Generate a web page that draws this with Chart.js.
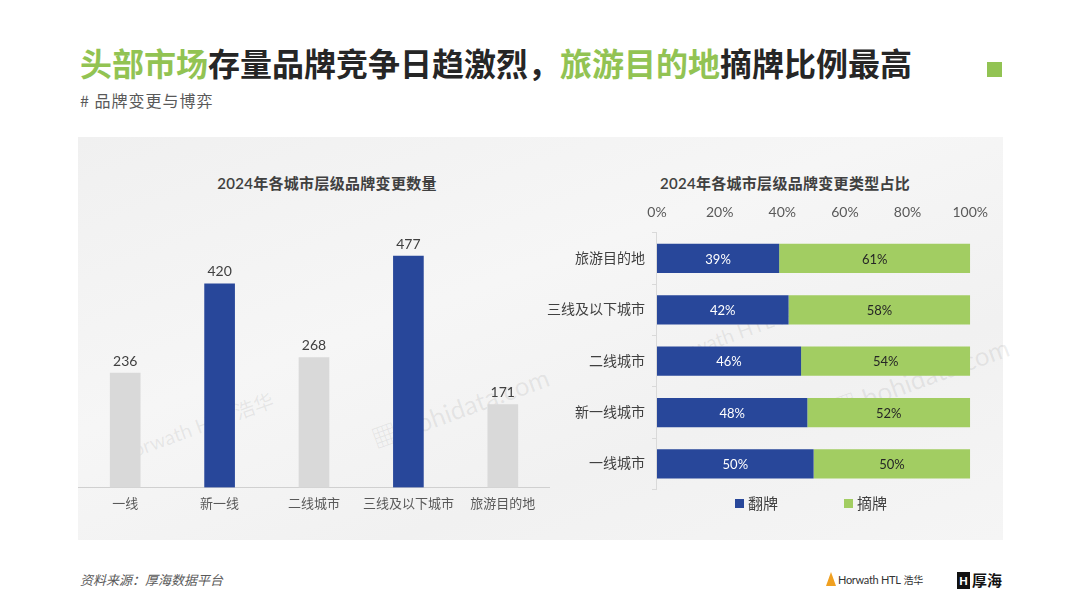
<!DOCTYPE html>
<html lang="zh-CN">
<head>
<meta charset="utf-8">
<title>品牌变更与博弈</title>
<script src="https://cdn.jsdelivr.net/npm/chart.js@4.4.1/dist/chart.umd.min.js"></script>
<style>
  body { margin: 0; width: 1080px; height: 606px; background: #fff; position: relative; overflow: hidden;
         font-family: Lato, "Noto Sans CJK SC", sans-serif; }
  .abs { position: absolute; }
  #title { left: 80px; top: 42px; font-size: 32px; font-weight: 700; color: #262626; line-height: 40px;
           font-family: "Noto Sans CJK SC", sans-serif; white-space: nowrap; }
  #title .g { color: #92c353; }
  #mark { left: 987px; top: 62px; width: 15px; height: 15px; background: #92c353; }
  #sub { left: 80px; top: 89px; font-size: 16px; letter-spacing: 1px; color: #595959; line-height: 22px;
         font-family: "Noto Sans CJK SC", sans-serif; }
  #panel { left: 78px; top: 137px; width: 925px; height: 403px;
           background: linear-gradient(160deg, #f0f0f0 0%, #f6f6f6 40%, #f1f1f1 70%, #f5f5f5 100%); }
  .ctitle { width: 400px; text-align: center; font-size: 15px; letter-spacing: 0.3px; font-weight: 600; color: #404040; line-height: 20px; }
  .wm { color: rgba(120,120,120,0.13); transform: rotate(-20deg); transform-origin: left center; white-space: nowrap; }
  #legend { left: 735px; top: 493px; font-size: 15px; color: #404040; line-height: 20px; display: flex; gap: 66px;
            font-family: "Noto Sans CJK SC", sans-serif; }
  #legend span.box { display: inline-block; width: 9px; height: 9px; margin-right: 4px; vertical-align: 1px; }
  #source { left: 80px; top: 570px; font-size: 13px; color: #595959; font-style: italic; line-height: 20px;
            font-family: "Noto Sans CJK SC", sans-serif; }
  #horwath { left: 826px; top: 572px; font-size: 11px; letter-spacing: -0.3px; color: #333; line-height: 16px; }
  #horwath i { display: inline-block; width: 0; height: 0; border-left: 5px solid transparent; border-right: 5px solid transparent;
               border-bottom: 14px solid #f0a020; vertical-align: -2px; margin-right: 2px; }
  #horwath small { font-size: 10px; margin-left: 3px; }
  #hohi { left: 957px; top: 570px; font-size: 15px; font-weight: 700; color: #111; line-height: 20px; font-family: "Noto Sans CJK SC", sans-serif; }
  #hohi b { display: inline-block; background: #111; color: #fff; font-size: 11px; width: 13px; height: 17px; text-align: center;
            line-height: 17px; margin-right: 2px; vertical-align: 1px; font-family: Lato, sans-serif; }
</style>
</head>
<body>
<div id="title" class="abs"><span class="g">头部市场</span>存量品牌竞争日趋激烈，<span class="g">旅游目的地</span>摘牌比例最高</div>
<div id="mark" class="abs"></div>
<div id="sub" class="abs"># 品牌变更与博弈</div>

<div id="panel" class="abs"></div>
<div class="abs wm" style="left:118px; top:440px; font-size:20px;">Horwath HTL 浩华</div>
<div class="abs wm" style="left:372px; top:420px; font-size:26px;">▦ hohidata.com</div>
<div class="abs wm" style="left:660px; top:345px; font-size:20px;">Horwath HTL 浩华</div>
<div class="abs wm" style="left:832px; top:390px; font-size:26px;">▦ hohidata.com</div>

<div class="abs ctitle" style="left:127px; top:173px;">2024年各城市层级品牌变更数量</div>
<div class="abs ctitle" style="left:585px; top:173px;">2024年各城市层级品牌变更类型占比</div>

<canvas id="countChart" class="abs" style="left:78px; top:200px;" width="472" height="329"></canvas>
<canvas id="shareChart" class="abs" style="left:540px; top:189px;" width="460" height="316"></canvas>

<div id="legend" class="abs"></div>

<div id="source" class="abs">资料来源：厚海数据平台</div>
<div id="horwath" class="abs"><i></i>Horwath HTL<small>浩华</small></div>
<div id="hohi" class="abs"><b>H</b>厚海</div>

<script>
// left chart: number of brand changes by city tier
const tierLabels = ["一线", "新一线", "二线城市", "三线及以下城市", "旅游目的地"];
const changeCounts = [236, 420, 268, 477, 171];
const highlightTiers = ["新一线", "三线及以下城市"];

// right chart: share of change type by city tier
const shareLabels = ["旅游目的地", "三线及以下城市", "二线城市", "新一线城市", "一线城市"];
const rebrandShare = [39, 42, 46, 48, 50];
const debrandShare = [61, 58, 54, 52, 50];
const seriesNames = ["翻牌", "摘牌"];
const percentTicks = [0, 20, 40, 60, 80, 100];

const BLUE = "#28479a";
const GREEN = "#a2cd62";
const GRAY = "#d9d9d9";
const FONT = 'Lato, "Noto Sans CJK SC", sans-serif';

Chart.defaults.font.family = FONT;
Chart.defaults.animation = false;

document.addEventListener("DOMContentLoaded", function () {
    // labels above the bars
    const topLabels = {
        id: "topLabels",
        afterDatasetsDraw(chart) {
            let ctx = chart.ctx;
            let meta = chart.getDatasetMeta(0);
            ctx.save();
            ctx.font = "14px " + FONT;
            ctx.fillStyle = "#404040";
            ctx.textAlign = "center";
            ctx.textBaseline = "bottom";
            meta.data.forEach((bar, i) => {
                ctx.fillText(chart.data.datasets[0].data[i], bar.x, bar.y - 5);
            });
            ctx.restore();
        }
    };

    // percentage labels inside the stacked segments
    const innerLabels = {
        id: "innerLabels",
        afterDatasetsDraw(chart) {
            let ctx = chart.ctx;
            ctx.save();
            ctx.font = "13px " + FONT;
            ctx.textAlign = "center";
            ctx.textBaseline = "middle";
            chart.data.datasets.forEach((ds, d) => {
                ctx.fillStyle = d === 0 ? "#ffffff" : "#262626";
                chart.getDatasetMeta(d).data.forEach((bar, i) => {
                    let p = bar.getCenterPoint();
                    ctx.fillText(ds.data[i] + "%", p.x, p.y + 1);
                });
            });
            ctx.restore();
        }
    };

    new Chart(document.getElementById("countChart").getContext("2d"), {
        type: "bar",
        data: {
            labels: tierLabels,
            datasets: [{
                label: "品牌变更数量",
                data: changeCounts,
                backgroundColor: tierLabels.map(t => highlightTiers.includes(t) ? BLUE : GRAY),
                barThickness: 30
            }]
        },
        options: {
            responsive: false,
            layout: { padding: { top: 45, bottom: 8 } },
            plugins: { legend: { display: false }, tooltip: { enabled: false } },
            scales: {
                x: {
                    grid: { display: false, drawTicks: false },
                    border: { display: true, color: "#d0d0d0" },
                    ticks: { color: "#595959", font: { size: 13 }, padding: 9, maxRotation: 0, minRotation: 0, autoSkip: false }
                },
                y: { display: false, min: 0, max: 500 }
            }
        },
        plugins: [topLabels]
    });

    new Chart(document.getElementById("shareChart").getContext("2d"), {
        type: "bar",
        data: {
            labels: shareLabels,
            datasets: [
                { label: seriesNames[0], data: rebrandShare, backgroundColor: BLUE },
                { label: seriesNames[1], data: debrandShare, backgroundColor: GREEN }
            ]
        },
        options: {
            responsive: false,
            indexAxis: "y",
            barPercentage: 0.57,
            categoryPercentage: 1,
            layout: { padding: { left: 0, right: 24, top: 3, bottom: 2 } },
            plugins: { legend: { display: false }, tooltip: { enabled: false } },
            scales: {
                x: {
                    position: "top",
                    stacked: true,
                    min: 0,
                    max: 100,
                    afterBuildTicks: axis => { axis.ticks = percentTicks.map(v => ({ value: v })); },
                    grid: { display: false, drawTicks: false },
                    border: { display: false },
                    ticks: { color: "#595959", font: { size: 14 }, padding: 12, callback: v => v + "%" }
                },
                y: {
                    stacked: true,
                    grid: { display: true, drawOnChartArea: false, tickLength: 5, color: "#d9d9d9", offset: true },
                    border: { display: true, color: "#d9d9d9" },
                    ticks: { color: "#404040", font: { size: 14 }, padding: 7 }
                }
            }
        },
        plugins: [innerLabels]
    });

    // legend for the stacked chart
    let legend = document.getElementById("legend");
    [BLUE, GREEN].forEach((c, i) => {
        let item = document.createElement("div");
        item.innerHTML = '<span class="box" style="background:' + c + '"></span>' + seriesNames[i];
        legend.appendChild(item);
    });
});
</script>
</body>
</html>
